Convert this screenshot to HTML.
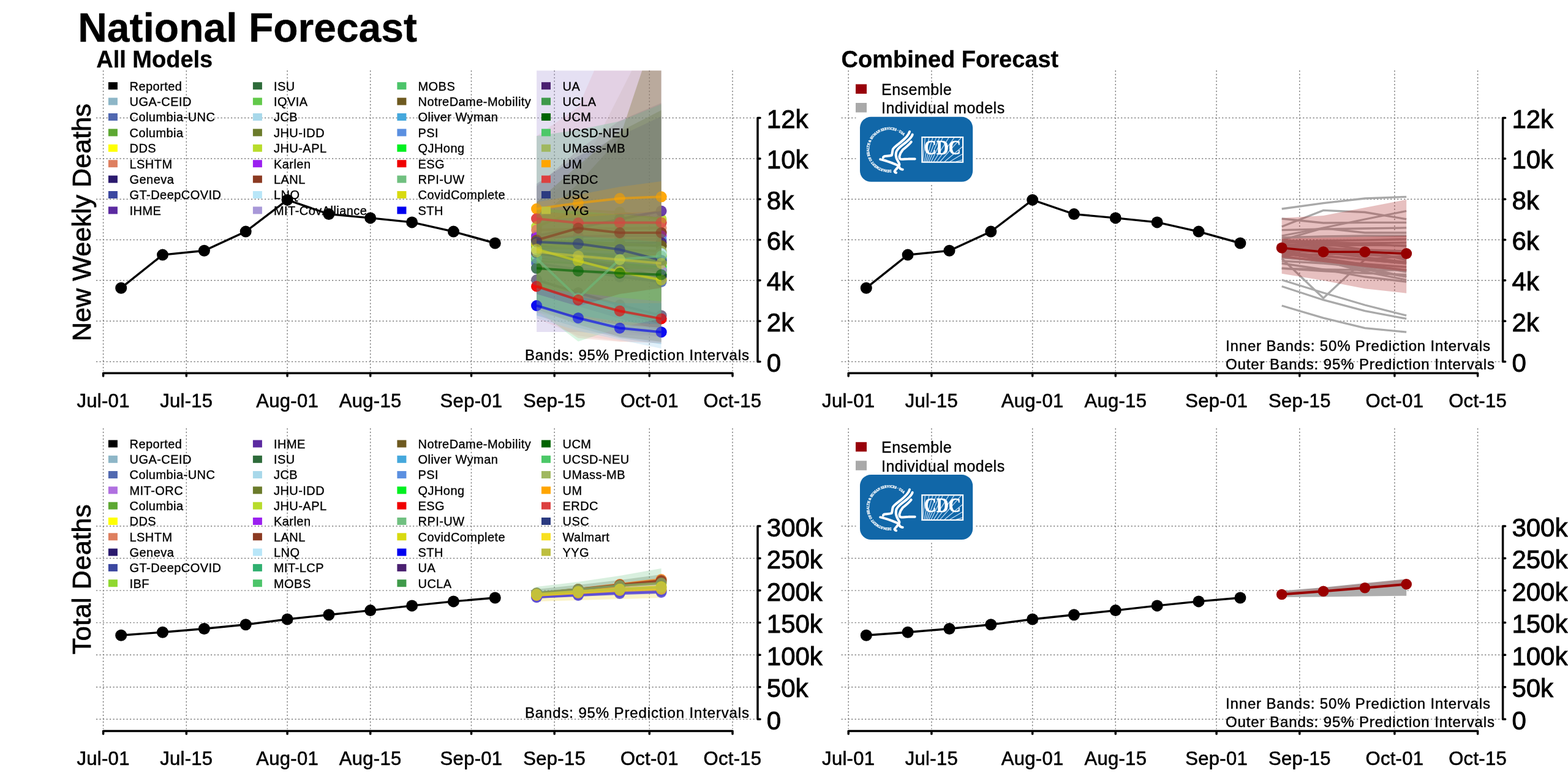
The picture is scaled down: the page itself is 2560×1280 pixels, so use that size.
<!DOCTYPE html>
<html><head><meta charset="utf-8"><title>National Forecast</title><style>
html,body{margin:0;padding:0;background:#fff;}
svg{display:block;}
text{font-family:'Liberation Sans', Arial, sans-serif;fill:#000;stroke:#000;stroke-width:0.35px;}
.g{stroke:#7c7c7c;stroke-width:1.45;stroke-dasharray:2.2 3.3;fill:none;}
.ax{stroke:#000;stroke-width:3.5;fill:none;stroke-linecap:round;stroke-linejoin:round;}
.rep{stroke:#000;stroke-width:3.4;fill:none;}
.xt{font-size:31px;text-anchor:middle;stroke-width:0.6px;letter-spacing:0.3px;}
.yt{font-size:42px;stroke-width:0.9px;}
.yl{font-size:43.2px;text-anchor:middle;stroke-width:0.8px;}
.st{font-size:38px;font-weight:bold;stroke-width:0.3px;}
.lg{font-size:20px;letter-spacing:0.45px;}
.lg2{font-size:25px;letter-spacing:0.5px;}
.bd{font-size:24px;stroke-width:0.45px;}
</style></head>
<body>
<svg width="2560" height="1280" viewBox="0 0 2560 1280">
<defs>
<clipPath id="clipTL"><rect x="140" y="115.2" width="1100" height="500"/></clipPath>
</defs>
<rect width="2560" height="1280" fill="#fff"/>
<text x="127.2" y="67.6" font-family="'Liberation Sans', Arial, sans-serif" font-weight="bold" font-size="66">National Forecast</text>
<text x="157.2" y="110.2" class="st">All Models</text>
<text x="1373.5" y="110.2" class="st">Combined Forecast</text>
<line x1="168.6" y1="115" x2="168.6" y2="606" class="g"/>
<line x1="304.3" y1="115" x2="304.3" y2="606" class="g"/>
<line x1="469.1" y1="115" x2="469.1" y2="606" class="g"/>
<line x1="604.7" y1="115" x2="604.7" y2="606" class="g"/>
<line x1="769.5" y1="115" x2="769.5" y2="606" class="g"/>
<line x1="905.2" y1="115" x2="905.2" y2="606" class="g"/>
<line x1="1060.3" y1="115" x2="1060.3" y2="606" class="g"/>
<line x1="1196" y1="115" x2="1196" y2="606" class="g"/>
<line x1="157" y1="590.5" x2="1235" y2="590.5" class="g"/>
<line x1="157" y1="524.2" x2="1235" y2="524.2" class="g"/>
<line x1="157" y1="457.8" x2="1235" y2="457.8" class="g"/>
<line x1="157" y1="391.5" x2="1235" y2="391.5" class="g"/>
<line x1="157" y1="325.2" x2="1235" y2="325.2" class="g"/>
<line x1="157" y1="258.9" x2="1235" y2="258.9" class="g"/>
<line x1="157" y1="192.5" x2="1235" y2="192.5" class="g"/>
<path d="M168.6,614V609.2H1196V614" class="ax"/>
<line x1="304.3" y1="609.2" x2="304.3" y2="614" class="ax"/>
<line x1="469.1" y1="609.2" x2="469.1" y2="614" class="ax"/>
<line x1="604.7" y1="609.2" x2="604.7" y2="614" class="ax"/>
<line x1="769.5" y1="609.2" x2="769.5" y2="614" class="ax"/>
<line x1="905.2" y1="609.2" x2="905.2" y2="614" class="ax"/>
<line x1="1060.3" y1="609.2" x2="1060.3" y2="614" class="ax"/>
<text x="168.6" y="664.5" class="xt">Jul-01</text>
<text x="304.3" y="664.5" class="xt">Jul-15</text>
<text x="469.1" y="664.5" class="xt">Aug-01</text>
<text x="604.7" y="664.5" class="xt">Aug-15</text>
<text x="769.5" y="664.5" class="xt">Sep-01</text>
<text x="905.2" y="664.5" class="xt">Sep-15</text>
<text x="1060.3" y="664.5" class="xt">Oct-01</text>
<text x="1196" y="664.5" class="xt">Oct-15</text>
<path d="M1241,192.5H1237V590.5H1241" class="ax"/>
<line x1="1237" y1="524.2" x2="1241" y2="524.2" class="ax"/>
<line x1="1237" y1="457.8" x2="1241" y2="457.8" class="ax"/>
<line x1="1237" y1="391.5" x2="1241" y2="391.5" class="ax"/>
<line x1="1237" y1="325.2" x2="1241" y2="325.2" class="ax"/>
<line x1="1237" y1="258.9" x2="1241" y2="258.9" class="ax"/>
<text x="1251.8" y="607" class="yt">0</text>
<text x="1251.8" y="540.7" class="yt">2k</text>
<text x="1251.8" y="474.3" class="yt">4k</text>
<text x="1251.8" y="408" class="yt">6k</text>
<text x="1251.8" y="341.7" class="yt">8k</text>
<text x="1251.8" y="275.4" class="yt">10k</text>
<text x="1251.8" y="209" class="yt">12k</text>
<line x1="1385.2" y1="115" x2="1385.2" y2="606" class="g"/>
<line x1="1520.9" y1="115" x2="1520.9" y2="606" class="g"/>
<line x1="1685.7" y1="115" x2="1685.7" y2="606" class="g"/>
<line x1="1821.3" y1="115" x2="1821.3" y2="606" class="g"/>
<line x1="1986.1" y1="115" x2="1986.1" y2="606" class="g"/>
<line x1="2121.8" y1="115" x2="2121.8" y2="606" class="g"/>
<line x1="2276.9" y1="115" x2="2276.9" y2="606" class="g"/>
<line x1="2412.6" y1="115" x2="2412.6" y2="606" class="g"/>
<line x1="1373.6" y1="590.5" x2="2451.6" y2="590.5" class="g"/>
<line x1="1373.6" y1="524.2" x2="2451.6" y2="524.2" class="g"/>
<line x1="1373.6" y1="457.8" x2="2451.6" y2="457.8" class="g"/>
<line x1="1373.6" y1="391.5" x2="2451.6" y2="391.5" class="g"/>
<line x1="1373.6" y1="325.2" x2="2451.6" y2="325.2" class="g"/>
<line x1="1373.6" y1="258.9" x2="2451.6" y2="258.9" class="g"/>
<line x1="1373.6" y1="192.5" x2="2451.6" y2="192.5" class="g"/>
<path d="M1385.2,614V609.2H2412.6V614" class="ax"/>
<line x1="1520.9" y1="609.2" x2="1520.9" y2="614" class="ax"/>
<line x1="1685.7" y1="609.2" x2="1685.7" y2="614" class="ax"/>
<line x1="1821.3" y1="609.2" x2="1821.3" y2="614" class="ax"/>
<line x1="1986.1" y1="609.2" x2="1986.1" y2="614" class="ax"/>
<line x1="2121.8" y1="609.2" x2="2121.8" y2="614" class="ax"/>
<line x1="2276.9" y1="609.2" x2="2276.9" y2="614" class="ax"/>
<text x="1385.2" y="664.5" class="xt">Jul-01</text>
<text x="1520.9" y="664.5" class="xt">Jul-15</text>
<text x="1685.7" y="664.5" class="xt">Aug-01</text>
<text x="1821.3" y="664.5" class="xt">Aug-15</text>
<text x="1986.1" y="664.5" class="xt">Sep-01</text>
<text x="2121.8" y="664.5" class="xt">Sep-15</text>
<text x="2276.9" y="664.5" class="xt">Oct-01</text>
<text x="2412.6" y="664.5" class="xt">Oct-15</text>
<path d="M2457.6,192.5H2453.6V590.5H2457.6" class="ax"/>
<line x1="2453.6" y1="524.2" x2="2457.6" y2="524.2" class="ax"/>
<line x1="2453.6" y1="457.8" x2="2457.6" y2="457.8" class="ax"/>
<line x1="2453.6" y1="391.5" x2="2457.6" y2="391.5" class="ax"/>
<line x1="2453.6" y1="325.2" x2="2457.6" y2="325.2" class="ax"/>
<line x1="2453.6" y1="258.9" x2="2457.6" y2="258.9" class="ax"/>
<text x="2468.4" y="607" class="yt">0</text>
<text x="2468.4" y="540.7" class="yt">2k</text>
<text x="2468.4" y="474.3" class="yt">4k</text>
<text x="2468.4" y="408" class="yt">6k</text>
<text x="2468.4" y="341.7" class="yt">8k</text>
<text x="2468.4" y="275.4" class="yt">10k</text>
<text x="2468.4" y="209" class="yt">12k</text>
<line x1="168.6" y1="699.3" x2="168.6" y2="1190.3" class="g"/>
<line x1="304.3" y1="699.3" x2="304.3" y2="1190.3" class="g"/>
<line x1="469.1" y1="699.3" x2="469.1" y2="1190.3" class="g"/>
<line x1="604.7" y1="699.3" x2="604.7" y2="1190.3" class="g"/>
<line x1="769.5" y1="699.3" x2="769.5" y2="1190.3" class="g"/>
<line x1="905.2" y1="699.3" x2="905.2" y2="1190.3" class="g"/>
<line x1="1060.3" y1="699.3" x2="1060.3" y2="1190.3" class="g"/>
<line x1="1196" y1="699.3" x2="1196" y2="1190.3" class="g"/>
<line x1="157" y1="1174.3" x2="1235" y2="1174.3" class="g"/>
<line x1="157" y1="1121.8" x2="1235" y2="1121.8" class="g"/>
<line x1="157" y1="1069.2" x2="1235" y2="1069.2" class="g"/>
<line x1="157" y1="1016.6" x2="1235" y2="1016.6" class="g"/>
<line x1="157" y1="964.1" x2="1235" y2="964.1" class="g"/>
<line x1="157" y1="911.5" x2="1235" y2="911.5" class="g"/>
<line x1="157" y1="859" x2="1235" y2="859" class="g"/>
<path d="M168.6,1198.3V1193.5H1196V1198.3" class="ax"/>
<line x1="304.3" y1="1193.5" x2="304.3" y2="1198.3" class="ax"/>
<line x1="469.1" y1="1193.5" x2="469.1" y2="1198.3" class="ax"/>
<line x1="604.7" y1="1193.5" x2="604.7" y2="1198.3" class="ax"/>
<line x1="769.5" y1="1193.5" x2="769.5" y2="1198.3" class="ax"/>
<line x1="905.2" y1="1193.5" x2="905.2" y2="1198.3" class="ax"/>
<line x1="1060.3" y1="1193.5" x2="1060.3" y2="1198.3" class="ax"/>
<text x="168.6" y="1248.8" class="xt">Jul-01</text>
<text x="304.3" y="1248.8" class="xt">Jul-15</text>
<text x="469.1" y="1248.8" class="xt">Aug-01</text>
<text x="604.7" y="1248.8" class="xt">Aug-15</text>
<text x="769.5" y="1248.8" class="xt">Sep-01</text>
<text x="905.2" y="1248.8" class="xt">Sep-15</text>
<text x="1060.3" y="1248.8" class="xt">Oct-01</text>
<text x="1196" y="1248.8" class="xt">Oct-15</text>
<path d="M1241,859H1237V1174.3H1241" class="ax"/>
<line x1="1237" y1="1121.8" x2="1241" y2="1121.8" class="ax"/>
<line x1="1237" y1="1069.2" x2="1241" y2="1069.2" class="ax"/>
<line x1="1237" y1="1016.6" x2="1241" y2="1016.6" class="ax"/>
<line x1="1237" y1="964.1" x2="1241" y2="964.1" class="ax"/>
<line x1="1237" y1="911.5" x2="1241" y2="911.5" class="ax"/>
<text x="1251.8" y="1190.8" class="yt">0</text>
<text x="1251.8" y="1138.2" class="yt">50k</text>
<text x="1251.8" y="1085.7" class="yt">100k</text>
<text x="1251.8" y="1033.2" class="yt">150k</text>
<text x="1251.8" y="980.6" class="yt">200k</text>
<text x="1251.8" y="928" class="yt">250k</text>
<text x="1251.8" y="875.5" class="yt">300k</text>
<line x1="1385.2" y1="699.3" x2="1385.2" y2="1190.3" class="g"/>
<line x1="1520.9" y1="699.3" x2="1520.9" y2="1190.3" class="g"/>
<line x1="1685.7" y1="699.3" x2="1685.7" y2="1190.3" class="g"/>
<line x1="1821.3" y1="699.3" x2="1821.3" y2="1190.3" class="g"/>
<line x1="1986.1" y1="699.3" x2="1986.1" y2="1190.3" class="g"/>
<line x1="2121.8" y1="699.3" x2="2121.8" y2="1190.3" class="g"/>
<line x1="2276.9" y1="699.3" x2="2276.9" y2="1190.3" class="g"/>
<line x1="2412.6" y1="699.3" x2="2412.6" y2="1190.3" class="g"/>
<line x1="1373.6" y1="1174.3" x2="2451.6" y2="1174.3" class="g"/>
<line x1="1373.6" y1="1121.8" x2="2451.6" y2="1121.8" class="g"/>
<line x1="1373.6" y1="1069.2" x2="2451.6" y2="1069.2" class="g"/>
<line x1="1373.6" y1="1016.6" x2="2451.6" y2="1016.6" class="g"/>
<line x1="1373.6" y1="964.1" x2="2451.6" y2="964.1" class="g"/>
<line x1="1373.6" y1="911.5" x2="2451.6" y2="911.5" class="g"/>
<line x1="1373.6" y1="859" x2="2451.6" y2="859" class="g"/>
<path d="M1385.2,1198.3V1193.5H2412.6V1198.3" class="ax"/>
<line x1="1520.9" y1="1193.5" x2="1520.9" y2="1198.3" class="ax"/>
<line x1="1685.7" y1="1193.5" x2="1685.7" y2="1198.3" class="ax"/>
<line x1="1821.3" y1="1193.5" x2="1821.3" y2="1198.3" class="ax"/>
<line x1="1986.1" y1="1193.5" x2="1986.1" y2="1198.3" class="ax"/>
<line x1="2121.8" y1="1193.5" x2="2121.8" y2="1198.3" class="ax"/>
<line x1="2276.9" y1="1193.5" x2="2276.9" y2="1198.3" class="ax"/>
<text x="1385.2" y="1248.8" class="xt">Jul-01</text>
<text x="1520.9" y="1248.8" class="xt">Jul-15</text>
<text x="1685.7" y="1248.8" class="xt">Aug-01</text>
<text x="1821.3" y="1248.8" class="xt">Aug-15</text>
<text x="1986.1" y="1248.8" class="xt">Sep-01</text>
<text x="2121.8" y="1248.8" class="xt">Sep-15</text>
<text x="2276.9" y="1248.8" class="xt">Oct-01</text>
<text x="2412.6" y="1248.8" class="xt">Oct-15</text>
<path d="M2457.6,859H2453.6V1174.3H2457.6" class="ax"/>
<line x1="2453.6" y1="1121.8" x2="2457.6" y2="1121.8" class="ax"/>
<line x1="2453.6" y1="1069.2" x2="2457.6" y2="1069.2" class="ax"/>
<line x1="2453.6" y1="1016.6" x2="2457.6" y2="1016.6" class="ax"/>
<line x1="2453.6" y1="964.1" x2="2457.6" y2="964.1" class="ax"/>
<line x1="2453.6" y1="911.5" x2="2457.6" y2="911.5" class="ax"/>
<text x="2468.4" y="1190.8" class="yt">0</text>
<text x="2468.4" y="1138.2" class="yt">50k</text>
<text x="2468.4" y="1085.7" class="yt">100k</text>
<text x="2468.4" y="1033.2" class="yt">150k</text>
<text x="2468.4" y="980.6" class="yt">200k</text>
<text x="2468.4" y="928" class="yt">250k</text>
<text x="2468.4" y="875.5" class="yt">300k</text>
<text transform="translate(148,363.2) rotate(-90)" class="yl">New Weekly Deaths</text>
<text transform="translate(148,945.8) rotate(-90)" class="yl" textLength="245" lengthAdjust="spacing">Total Deaths</text>
<polyline points="197.7,470.2 265.5,416.1 333.4,409.3 401.2,378.1 469.1,326.4 536.9,349.6 604.7,355.9 672.6,362.9 740.4,378.1 808.3,397" class="rep"/>
<circle cx="197.7" cy="470.2" r="9.5"/>
<circle cx="265.5" cy="416.1" r="9.5"/>
<circle cx="333.4" cy="409.3" r="9.5"/>
<circle cx="401.2" cy="378.1" r="9.5"/>
<circle cx="469.1" cy="326.4" r="9.5"/>
<circle cx="536.9" cy="349.6" r="9.5"/>
<circle cx="604.7" cy="355.9" r="9.5"/>
<circle cx="672.6" cy="362.9" r="9.5"/>
<circle cx="740.4" cy="378.1" r="9.5"/>
<circle cx="808.3" cy="397" r="9.5"/>
<g clip-path="url(#clipTL)">
<polyline points="876.1,341 944,331.6 1011.8,324 1079.6,321.3" fill="none" stroke="#FFA500" stroke-width="4" stroke-opacity="0.9"/>
<circle cx="876.1" cy="341" r="9" fill="#FFA500" fill-opacity="0.9"/>
<circle cx="944" cy="331.6" r="9" fill="#FFA500" fill-opacity="0.9"/>
<circle cx="1011.8" cy="324" r="9" fill="#FFA500" fill-opacity="0.9"/>
<circle cx="1079.6" cy="321.3" r="9" fill="#FFA500" fill-opacity="0.9"/>
<polyline points="876.1,357 944,364 1011.8,363.4 1079.6,363.4" fill="none" stroke="#DC4040" stroke-width="4" stroke-opacity="0.9"/>
<circle cx="876.1" cy="357" r="9" fill="#DC4040" fill-opacity="0.9"/>
<circle cx="944" cy="364" r="9" fill="#DC4040" fill-opacity="0.9"/>
<circle cx="1011.8" cy="363.4" r="9" fill="#DC4040" fill-opacity="0.9"/>
<circle cx="1079.6" cy="363.4" r="9" fill="#DC4040" fill-opacity="0.9"/>
<polyline points="876.1,370 944,343.4 1011.8,346.5 1079.6,357.8" fill="none" stroke="#B8DC2C" stroke-width="4" stroke-opacity="0.9"/>
<circle cx="876.1" cy="370" r="9" fill="#B8DC2C" fill-opacity="0.9"/>
<circle cx="944" cy="343.4" r="9" fill="#B8DC2C" fill-opacity="0.9"/>
<circle cx="1011.8" cy="346.5" r="9" fill="#B8DC2C" fill-opacity="0.9"/>
<circle cx="1079.6" cy="357.8" r="9" fill="#B8DC2C" fill-opacity="0.9"/>
<polyline points="876.1,385 944,372 1011.8,358 1079.6,344.5" fill="none" stroke="#5B2AA0" stroke-width="4" stroke-opacity="0.9"/>
<circle cx="876.1" cy="385" r="9" fill="#5B2AA0" fill-opacity="0.9"/>
<circle cx="944" cy="372" r="9" fill="#5B2AA0" fill-opacity="0.9"/>
<circle cx="1011.8" cy="358" r="9" fill="#5B2AA0" fill-opacity="0.9"/>
<circle cx="1079.6" cy="344.5" r="9" fill="#5B2AA0" fill-opacity="0.9"/>
<polyline points="876.1,375.6 944,374 1011.8,373 1079.6,371.9" fill="none" stroke="#DE7F5F" stroke-width="4" stroke-opacity="0.9"/>
<circle cx="876.1" cy="375.6" r="9" fill="#DE7F5F" fill-opacity="0.9"/>
<circle cx="944" cy="374" r="9" fill="#DE7F5F" fill-opacity="0.9"/>
<circle cx="1011.8" cy="373" r="9" fill="#DE7F5F" fill-opacity="0.9"/>
<circle cx="1079.6" cy="371.9" r="9" fill="#DE7F5F" fill-opacity="0.9"/>
<polyline points="876.1,392 944,372.5 1011.8,380 1079.6,380" fill="none" stroke="#8B3A22" stroke-width="4" stroke-opacity="0.9"/>
<circle cx="876.1" cy="392" r="9" fill="#8B3A22" fill-opacity="0.9"/>
<circle cx="944" cy="372.5" r="9" fill="#8B3A22" fill-opacity="0.9"/>
<circle cx="1011.8" cy="380" r="9" fill="#8B3A22" fill-opacity="0.9"/>
<circle cx="1079.6" cy="380" r="9" fill="#8B3A22" fill-opacity="0.9"/>
<polyline points="876.1,388 944,386 1011.8,385 1079.6,385" fill="none" stroke="#9B20F0" stroke-width="4" stroke-opacity="0.9"/>
<circle cx="876.1" cy="388" r="9" fill="#9B20F0" fill-opacity="0.9"/>
<circle cx="944" cy="386" r="9" fill="#9B20F0" fill-opacity="0.9"/>
<circle cx="1011.8" cy="385" r="9" fill="#9B20F0" fill-opacity="0.9"/>
<circle cx="1079.6" cy="385" r="9" fill="#9B20F0" fill-opacity="0.9"/>
<polyline points="876.1,396 944,393 1011.8,392 1079.6,390.6" fill="none" stroke="#5B8FE0" stroke-width="4" stroke-opacity="0.9"/>
<circle cx="876.1" cy="396" r="9" fill="#5B8FE0" fill-opacity="0.9"/>
<circle cx="944" cy="393" r="9" fill="#5B8FE0" fill-opacity="0.9"/>
<circle cx="1011.8" cy="392" r="9" fill="#5B8FE0" fill-opacity="0.9"/>
<circle cx="1079.6" cy="390.6" r="9" fill="#5B8FE0" fill-opacity="0.9"/>
<polyline points="876.1,395 944,398 1011.8,407.5 1079.6,425" fill="none" stroke="#2B3A80" stroke-width="4" stroke-opacity="0.9"/>
<circle cx="876.1" cy="395" r="9" fill="#2B3A80" fill-opacity="0.9"/>
<circle cx="944" cy="398" r="9" fill="#2B3A80" fill-opacity="0.9"/>
<circle cx="1011.8" cy="407.5" r="9" fill="#2B3A80" fill-opacity="0.9"/>
<circle cx="1079.6" cy="425" r="9" fill="#2B3A80" fill-opacity="0.9"/>
<polyline points="876.1,400 944,398 1011.8,397 1079.6,396.2" fill="none" stroke="#4A2070" stroke-width="4" stroke-opacity="0.9"/>
<circle cx="876.1" cy="400" r="9" fill="#4A2070" fill-opacity="0.9"/>
<circle cx="944" cy="398" r="9" fill="#4A2070" fill-opacity="0.9"/>
<circle cx="1011.8" cy="397" r="9" fill="#4A2070" fill-opacity="0.9"/>
<circle cx="1079.6" cy="396.2" r="9" fill="#4A2070" fill-opacity="0.9"/>
<polyline points="876.1,392.5 944,395 1011.8,398 1079.6,401.8" fill="none" stroke="#6B7B2B" stroke-width="4" stroke-opacity="0.9"/>
<circle cx="876.1" cy="392.5" r="9" fill="#6B7B2B" fill-opacity="0.9"/>
<circle cx="944" cy="395" r="9" fill="#6B7B2B" fill-opacity="0.9"/>
<circle cx="1011.8" cy="398" r="9" fill="#6B7B2B" fill-opacity="0.9"/>
<circle cx="1079.6" cy="401.8" r="9" fill="#6B7B2B" fill-opacity="0.9"/>
<polyline points="876.1,407 944,426 1011.8,443.6 1079.6,457" fill="none" stroke="#D8DA10" stroke-width="4" stroke-opacity="0.9"/>
<circle cx="876.1" cy="407" r="9" fill="#D8DA10" fill-opacity="0.9"/>
<circle cx="944" cy="426" r="9" fill="#D8DA10" fill-opacity="0.9"/>
<circle cx="1011.8" cy="443.6" r="9" fill="#D8DA10" fill-opacity="0.9"/>
<circle cx="1079.6" cy="457" r="9" fill="#D8DA10" fill-opacity="0.9"/>
<polyline points="876.1,438 944,442.5 1011.8,446 1079.6,448.5" fill="none" stroke="#006400" stroke-width="4" stroke-opacity="0.9"/>
<circle cx="876.1" cy="438" r="9" fill="#006400" fill-opacity="0.9"/>
<circle cx="944" cy="442.5" r="9" fill="#006400" fill-opacity="0.9"/>
<circle cx="1011.8" cy="446" r="9" fill="#006400" fill-opacity="0.9"/>
<circle cx="1079.6" cy="448.5" r="9" fill="#006400" fill-opacity="0.9"/>
<polyline points="876.1,422 944,486.7 1011.8,423.5 1079.6,418" fill="none" stroke="#70C080" stroke-width="4" stroke-opacity="0.9"/>
<circle cx="876.1" cy="422" r="9" fill="#70C080" fill-opacity="0.9"/>
<circle cx="944" cy="486.7" r="9" fill="#70C080" fill-opacity="0.9"/>
<circle cx="1011.8" cy="423.5" r="9" fill="#70C080" fill-opacity="0.9"/>
<circle cx="1079.6" cy="418" r="9" fill="#70C080" fill-opacity="0.9"/>
<polyline points="876.1,467.5 944,489.7 1011.8,507.7 1079.6,520.4" fill="none" stroke="#F00000" stroke-width="4" stroke-opacity="0.9"/>
<circle cx="876.1" cy="467.5" r="9" fill="#F00000" fill-opacity="0.9"/>
<circle cx="944" cy="489.7" r="9" fill="#F00000" fill-opacity="0.9"/>
<circle cx="1011.8" cy="507.7" r="9" fill="#F00000" fill-opacity="0.9"/>
<circle cx="1079.6" cy="520.4" r="9" fill="#F00000" fill-opacity="0.9"/>
<polyline points="876.1,457 944,478 1011.8,498 1079.6,515.2" fill="none" stroke="#6A6080" stroke-width="4" stroke-opacity="0.9"/>
<circle cx="876.1" cy="457" r="9" fill="#6A6080" fill-opacity="0.9"/>
<circle cx="944" cy="478" r="9" fill="#6A6080" fill-opacity="0.9"/>
<circle cx="1011.8" cy="498" r="9" fill="#6A6080" fill-opacity="0.9"/>
<circle cx="1079.6" cy="515.2" r="9" fill="#6A6080" fill-opacity="0.9"/>
<polyline points="876.1,499 944,519.2 1011.8,535.7 1079.6,542.2" fill="none" stroke="#0000F0" stroke-width="4" stroke-opacity="0.9"/>
<circle cx="876.1" cy="499" r="9" fill="#0000F0" fill-opacity="0.9"/>
<circle cx="944" cy="519.2" r="9" fill="#0000F0" fill-opacity="0.9"/>
<circle cx="1011.8" cy="535.7" r="9" fill="#0000F0" fill-opacity="0.9"/>
<circle cx="1079.6" cy="542.2" r="9" fill="#0000F0" fill-opacity="0.9"/>
<polyline points="876.1,420.6 944,426 1011.8,431 1079.6,436" fill="none" stroke="#00F020" stroke-width="4" stroke-opacity="0.9"/>
<circle cx="876.1" cy="420.6" r="9" fill="#00F020" fill-opacity="0.9"/>
<circle cx="944" cy="426" r="9" fill="#00F020" fill-opacity="0.9"/>
<circle cx="1011.8" cy="431" r="9" fill="#00F020" fill-opacity="0.9"/>
<circle cx="1079.6" cy="436" r="9" fill="#00F020" fill-opacity="0.9"/>
<polyline points="876.1,416.8 944,415 1011.8,414 1079.6,413" fill="none" stroke="#4CC868" stroke-width="4" stroke-opacity="0.9"/>
<circle cx="876.1" cy="416.8" r="9" fill="#4CC868" fill-opacity="0.9"/>
<circle cx="944" cy="415" r="9" fill="#4CC868" fill-opacity="0.9"/>
<circle cx="1011.8" cy="414" r="9" fill="#4CC868" fill-opacity="0.9"/>
<circle cx="1079.6" cy="413" r="9" fill="#4CC868" fill-opacity="0.9"/>
<polyline points="876.1,411.2 944,418 1011.8,424 1079.6,430" fill="none" stroke="#C8C83A" stroke-width="4" stroke-opacity="0.9"/>
<circle cx="876.1" cy="411.2" r="9" fill="#C8C83A" fill-opacity="0.9"/>
<circle cx="944" cy="418" r="9" fill="#C8C83A" fill-opacity="0.9"/>
<circle cx="1011.8" cy="424" r="9" fill="#C8C83A" fill-opacity="0.9"/>
<circle cx="1079.6" cy="430" r="9" fill="#C8C83A" fill-opacity="0.9"/>
<polyline points="876.1,426.2 944,430 1011.8,436 1079.6,441.2" fill="none" stroke="#4CC46A" stroke-width="4" stroke-opacity="0.9"/>
<circle cx="876.1" cy="426.2" r="9" fill="#4CC46A" fill-opacity="0.9"/>
<circle cx="944" cy="430" r="9" fill="#4CC46A" fill-opacity="0.9"/>
<circle cx="1011.8" cy="436" r="9" fill="#4CC46A" fill-opacity="0.9"/>
<circle cx="1079.6" cy="441.2" r="9" fill="#4CC46A" fill-opacity="0.9"/>
<polyline points="876.1,420 944,426 1011.8,433 1079.6,441" fill="none" stroke="#5DA832" stroke-width="4" stroke-opacity="0.9"/>
<circle cx="876.1" cy="420" r="9" fill="#5DA832" fill-opacity="0.9"/>
<circle cx="944" cy="426" r="9" fill="#5DA832" fill-opacity="0.9"/>
<circle cx="1011.8" cy="433" r="9" fill="#5DA832" fill-opacity="0.9"/>
<circle cx="1079.6" cy="441" r="9" fill="#5DA832" fill-opacity="0.9"/>
<polyline points="876.1,404 944,408 1011.8,414 1079.6,422.5" fill="none" stroke="#8DB6C7" stroke-width="4" stroke-opacity="0.9"/>
<circle cx="876.1" cy="404" r="9" fill="#8DB6C7" fill-opacity="0.9"/>
<circle cx="944" cy="408" r="9" fill="#8DB6C7" fill-opacity="0.9"/>
<circle cx="1011.8" cy="414" r="9" fill="#8DB6C7" fill-opacity="0.9"/>
<circle cx="1079.6" cy="422.5" r="9" fill="#8DB6C7" fill-opacity="0.9"/>
<polyline points="876.1,402 944,401 1011.8,400 1079.6,401" fill="none" stroke="#6E5A20" stroke-width="4" stroke-opacity="0.9"/>
<circle cx="876.1" cy="402" r="9" fill="#6E5A20" fill-opacity="0.9"/>
<circle cx="944" cy="401" r="9" fill="#6E5A20" fill-opacity="0.9"/>
<circle cx="1011.8" cy="400" r="9" fill="#6E5A20" fill-opacity="0.9"/>
<circle cx="1079.6" cy="401" r="9" fill="#6E5A20" fill-opacity="0.9"/>
<polyline points="876.1,409 944,412 1011.8,416 1079.6,420" fill="none" stroke="#45A8DC" stroke-width="4" stroke-opacity="0.9"/>
<circle cx="876.1" cy="409" r="9" fill="#45A8DC" fill-opacity="0.9"/>
<circle cx="944" cy="412" r="9" fill="#45A8DC" fill-opacity="0.9"/>
<circle cx="1011.8" cy="416" r="9" fill="#45A8DC" fill-opacity="0.9"/>
<circle cx="1079.6" cy="420" r="9" fill="#45A8DC" fill-opacity="0.9"/>
<polyline points="876.1,404 944,406 1011.8,408 1079.6,410" fill="none" stroke="#A0B860" stroke-width="4" stroke-opacity="0.9"/>
<circle cx="876.1" cy="404" r="9" fill="#A0B860" fill-opacity="0.9"/>
<circle cx="944" cy="406" r="9" fill="#A0B860" fill-opacity="0.9"/>
<circle cx="1011.8" cy="408" r="9" fill="#A0B860" fill-opacity="0.9"/>
<circle cx="1079.6" cy="410" r="9" fill="#A0B860" fill-opacity="0.9"/>
<polyline points="876.1,412 944,418 1011.8,424 1079.6,430" fill="none" stroke="#2E6B3A" stroke-width="4" stroke-opacity="0.9"/>
<circle cx="876.1" cy="412" r="9" fill="#2E6B3A" fill-opacity="0.9"/>
<circle cx="944" cy="418" r="9" fill="#2E6B3A" fill-opacity="0.9"/>
<circle cx="1011.8" cy="424" r="9" fill="#2E6B3A" fill-opacity="0.9"/>
<circle cx="1079.6" cy="430" r="9" fill="#2E6B3A" fill-opacity="0.9"/>
<polyline points="876.1,414 944,422 1011.8,432 1079.6,444" fill="none" stroke="#62C94A" stroke-width="4" stroke-opacity="0.9"/>
<circle cx="876.1" cy="414" r="9" fill="#62C94A" fill-opacity="0.9"/>
<circle cx="944" cy="422" r="9" fill="#62C94A" fill-opacity="0.9"/>
<circle cx="1011.8" cy="432" r="9" fill="#62C94A" fill-opacity="0.9"/>
<circle cx="1079.6" cy="444" r="9" fill="#62C94A" fill-opacity="0.9"/>
<polyline points="876.1,406 944,412 1011.8,420 1079.6,428" fill="none" stroke="#3F9A4A" stroke-width="4" stroke-opacity="0.9"/>
<circle cx="876.1" cy="406" r="9" fill="#3F9A4A" fill-opacity="0.9"/>
<circle cx="944" cy="412" r="9" fill="#3F9A4A" fill-opacity="0.9"/>
<circle cx="1011.8" cy="420" r="9" fill="#3F9A4A" fill-opacity="0.9"/>
<circle cx="1079.6" cy="428" r="9" fill="#3F9A4A" fill-opacity="0.9"/>
<polyline points="876.1,418 944,428 1011.8,440 1079.6,452" fill="none" stroke="#A8D8EA" stroke-width="4" stroke-opacity="0.9"/>
<circle cx="876.1" cy="418" r="9" fill="#A8D8EA" fill-opacity="0.9"/>
<circle cx="944" cy="428" r="9" fill="#A8D8EA" fill-opacity="0.9"/>
<circle cx="1011.8" cy="440" r="9" fill="#A8D8EA" fill-opacity="0.9"/>
<circle cx="1079.6" cy="452" r="9" fill="#A8D8EA" fill-opacity="0.9"/>
<polyline points="876.1,398 944,404 1011.8,410 1079.6,416" fill="none" stroke="#FFFF00" stroke-width="4" stroke-opacity="0.9"/>
<circle cx="876.1" cy="398" r="9" fill="#FFFF00" fill-opacity="0.9"/>
<circle cx="944" cy="404" r="9" fill="#FFFF00" fill-opacity="0.9"/>
<circle cx="1011.8" cy="410" r="9" fill="#FFFF00" fill-opacity="0.9"/>
<circle cx="1079.6" cy="416" r="9" fill="#FFFF00" fill-opacity="0.9"/>
<polyline points="876.1,413 944,424 1011.8,437 1079.6,452" fill="none" stroke="#2B1A6E" stroke-width="4" stroke-opacity="0.9"/>
<circle cx="876.1" cy="413" r="9" fill="#2B1A6E" fill-opacity="0.9"/>
<circle cx="944" cy="424" r="9" fill="#2B1A6E" fill-opacity="0.9"/>
<circle cx="1011.8" cy="437" r="9" fill="#2B1A6E" fill-opacity="0.9"/>
<circle cx="1079.6" cy="452" r="9" fill="#2B1A6E" fill-opacity="0.9"/>
<polyline points="876.1,430 944,440 1011.8,452 1079.6,460" fill="none" stroke="#5068B0" stroke-width="4" stroke-opacity="0.9"/>
<circle cx="876.1" cy="430" r="9" fill="#5068B0" fill-opacity="0.9"/>
<circle cx="944" cy="440" r="9" fill="#5068B0" fill-opacity="0.9"/>
<circle cx="1011.8" cy="452" r="9" fill="#5068B0" fill-opacity="0.9"/>
<circle cx="1079.6" cy="460" r="9" fill="#5068B0" fill-opacity="0.9"/>
<polyline points="876.1,438.4 944,440 1011.8,441 1079.6,441.2" fill="none" stroke="#A898D8" stroke-width="4" stroke-opacity="0.9"/>
<circle cx="876.1" cy="438.4" r="9" fill="#A898D8" fill-opacity="0.9"/>
<circle cx="944" cy="440" r="9" fill="#A898D8" fill-opacity="0.9"/>
<circle cx="1011.8" cy="441" r="9" fill="#A898D8" fill-opacity="0.9"/>
<circle cx="1079.6" cy="441.2" r="9" fill="#A898D8" fill-opacity="0.9"/>
<polyline points="876.1,408 944,410 1011.8,412 1079.6,414" fill="none" stroke="#B8E6F8" stroke-width="4" stroke-opacity="0.9"/>
<circle cx="876.1" cy="408" r="9" fill="#B8E6F8" fill-opacity="0.9"/>
<circle cx="944" cy="410" r="9" fill="#B8E6F8" fill-opacity="0.9"/>
<circle cx="1011.8" cy="412" r="9" fill="#B8E6F8" fill-opacity="0.9"/>
<circle cx="1079.6" cy="414" r="9" fill="#B8E6F8" fill-opacity="0.9"/>
<polygon points="876.1,-100 944,-100 1011.8,-100 1079.6,-100 1079.6,550 1011.8,546 944,542 876.1,542" fill="#A898D8" fill-opacity="0.3"/>
<polygon points="876.1,222 944,175 1011.8,20 1079.6,-200 1079.6,560 1011.8,557 944,548 876.1,520" fill="#D87080" fill-opacity="0.13"/>
<polygon points="876.1,330 944,287 1011.8,154 1079.6,20 1079.6,558 1011.8,550 944,530 876.1,505" fill="#9A8060" fill-opacity="0.1"/>
<polygon points="876.1,360 944,300 1011.8,225 1079.6,21 1079.6,558 1011.8,550 944,530 876.1,505" fill="#847A41" fill-opacity="0.38"/>
<polygon points="876.1,222 944,212 1011.8,198 1079.6,170 1079.6,545 1011.8,540 944,530 876.1,500" fill="#60C090" fill-opacity="0.3"/>
<polygon points="876.1,304 944,245 1011.8,197 1079.6,168 1079.6,550 1011.8,540 944,525 876.1,510" fill="#806078" fill-opacity="0.18"/>
<polygon points="876.1,300 944,255 1011.8,222 1079.6,190 1079.6,540 1011.8,520 944,500 876.1,480" fill="#686888" fill-opacity="0.28"/>
<polygon points="876.1,330 944,270 1011.8,215 1079.6,180 1079.6,530 1011.8,510 944,490 876.1,470" fill="#727A50" fill-opacity="0.35"/>
<polygon points="876.1,330 944,318 1011.8,305 1079.6,296 1079.6,345 1011.8,350 944,355 876.1,360" fill="#E0A020" fill-opacity="0.25"/>
<polygon points="876.1,340 944,345 1011.8,350 1079.6,355 1079.6,492 1011.8,486 944,478 876.1,470" fill="#70B030" fill-opacity="0.38"/>
<polygon points="876.1,345 944,350 1011.8,348 1079.6,345 1079.6,395 1011.8,390 944,385 876.1,395" fill="#C07030" fill-opacity="0.22"/>
<polygon points="876.1,470 944,485 1011.8,495 1079.6,495 1079.6,562 1011.8,552 944,535 876.1,515" fill="#4090B0" fill-opacity="0.3"/>
<polygon points="876.1,480 944,500 1011.8,480 1079.6,470 1079.6,520 1011.8,535 944,557.6 876.1,505" fill="#80E0A0" fill-opacity="0.3"/>
<polygon points="876.1,500 944,515 1011.8,525 1079.6,530 1079.6,560 1011.8,558 944,552 876.1,510" fill="#E09080" fill-opacity="0.22"/>
<polygon points="876.1,500 944,520 1011.8,530 1079.6,535 1079.6,569 1011.8,555 944,540 876.1,520" fill="#A0D0F0" fill-opacity="0.32"/>
<polyline points="876.1,341 944,331.6 1011.8,324 1079.6,321.3" fill="none" stroke="#FFA500" stroke-width="4" stroke-opacity="0.6"/>
<circle cx="876.1" cy="341" r="9" fill="#FFA500" fill-opacity="0.55"/>
<circle cx="944" cy="331.6" r="9" fill="#FFA500" fill-opacity="0.55"/>
<circle cx="1011.8" cy="324" r="9" fill="#FFA500" fill-opacity="0.55"/>
<circle cx="1079.6" cy="321.3" r="9" fill="#FFA500" fill-opacity="0.55"/>
<polyline points="876.1,357 944,364 1011.8,363.4 1079.6,363.4" fill="none" stroke="#DC4040" stroke-width="4" stroke-opacity="0.6"/>
<circle cx="876.1" cy="357" r="9" fill="#DC4040" fill-opacity="0.55"/>
<circle cx="944" cy="364" r="9" fill="#DC4040" fill-opacity="0.55"/>
<circle cx="1011.8" cy="363.4" r="9" fill="#DC4040" fill-opacity="0.55"/>
<circle cx="1079.6" cy="363.4" r="9" fill="#DC4040" fill-opacity="0.55"/>
<polyline points="876.1,392 944,372.5 1011.8,380 1079.6,380" fill="none" stroke="#8B3A22" stroke-width="4" stroke-opacity="0.6"/>
<circle cx="876.1" cy="392" r="9" fill="#8B3A22" fill-opacity="0.55"/>
<circle cx="944" cy="372.5" r="9" fill="#8B3A22" fill-opacity="0.55"/>
<circle cx="1011.8" cy="380" r="9" fill="#8B3A22" fill-opacity="0.55"/>
<circle cx="1079.6" cy="380" r="9" fill="#8B3A22" fill-opacity="0.55"/>
<polyline points="876.1,395 944,398 1011.8,407.5 1079.6,425" fill="none" stroke="#2B3A80" stroke-width="4" stroke-opacity="0.6"/>
<circle cx="876.1" cy="395" r="9" fill="#2B3A80" fill-opacity="0.55"/>
<circle cx="944" cy="398" r="9" fill="#2B3A80" fill-opacity="0.55"/>
<circle cx="1011.8" cy="407.5" r="9" fill="#2B3A80" fill-opacity="0.55"/>
<circle cx="1079.6" cy="425" r="9" fill="#2B3A80" fill-opacity="0.55"/>
<polyline points="876.1,407 944,426 1011.8,443.6 1079.6,457" fill="none" stroke="#D8DA10" stroke-width="4" stroke-opacity="0.6"/>
<circle cx="876.1" cy="407" r="9" fill="#D8DA10" fill-opacity="0.55"/>
<circle cx="944" cy="426" r="9" fill="#D8DA10" fill-opacity="0.55"/>
<circle cx="1011.8" cy="443.6" r="9" fill="#D8DA10" fill-opacity="0.55"/>
<circle cx="1079.6" cy="457" r="9" fill="#D8DA10" fill-opacity="0.55"/>
<polyline points="876.1,438 944,442.5 1011.8,446 1079.6,448.5" fill="none" stroke="#006400" stroke-width="4" stroke-opacity="0.6"/>
<circle cx="876.1" cy="438" r="9" fill="#006400" fill-opacity="0.55"/>
<circle cx="944" cy="442.5" r="9" fill="#006400" fill-opacity="0.55"/>
<circle cx="1011.8" cy="446" r="9" fill="#006400" fill-opacity="0.55"/>
<circle cx="1079.6" cy="448.5" r="9" fill="#006400" fill-opacity="0.55"/>
<polyline points="876.1,422 944,486.7 1011.8,423.5 1079.6,418" fill="none" stroke="#70C080" stroke-width="4" stroke-opacity="0.6"/>
<circle cx="876.1" cy="422" r="9" fill="#70C080" fill-opacity="0.55"/>
<circle cx="944" cy="486.7" r="9" fill="#70C080" fill-opacity="0.55"/>
<circle cx="1011.8" cy="423.5" r="9" fill="#70C080" fill-opacity="0.55"/>
<circle cx="1079.6" cy="418" r="9" fill="#70C080" fill-opacity="0.55"/>
<polyline points="876.1,467.5 944,489.7 1011.8,507.7 1079.6,520.4" fill="none" stroke="#F00000" stroke-width="4" stroke-opacity="0.6"/>
<circle cx="876.1" cy="467.5" r="9" fill="#F00000" fill-opacity="0.55"/>
<circle cx="944" cy="489.7" r="9" fill="#F00000" fill-opacity="0.55"/>
<circle cx="1011.8" cy="507.7" r="9" fill="#F00000" fill-opacity="0.55"/>
<circle cx="1079.6" cy="520.4" r="9" fill="#F00000" fill-opacity="0.55"/>
<polyline points="876.1,499 944,519.2 1011.8,535.7 1079.6,542.2" fill="none" stroke="#0000F0" stroke-width="4" stroke-opacity="0.6"/>
<circle cx="876.1" cy="499" r="9" fill="#0000F0" fill-opacity="0.55"/>
<circle cx="944" cy="519.2" r="9" fill="#0000F0" fill-opacity="0.55"/>
<circle cx="1011.8" cy="535.7" r="9" fill="#0000F0" fill-opacity="0.55"/>
<circle cx="1079.6" cy="542.2" r="9" fill="#0000F0" fill-opacity="0.55"/>
<polyline points="876.1,411.2 944,418 1011.8,424 1079.6,430" fill="none" stroke="#C8C83A" stroke-width="4" stroke-opacity="0.6"/>
<circle cx="876.1" cy="411.2" r="9" fill="#C8C83A" fill-opacity="0.55"/>
<circle cx="944" cy="418" r="9" fill="#C8C83A" fill-opacity="0.55"/>
<circle cx="1011.8" cy="424" r="9" fill="#C8C83A" fill-opacity="0.55"/>
<circle cx="1079.6" cy="430" r="9" fill="#C8C83A" fill-opacity="0.55"/>
</g>
<rect x="176.9" y="134.2" width="15" height="12" fill="#000000"/>
<text x="211.5" y="147.5" class="lg">Reported</text>
<rect x="176.9" y="159.6" width="15" height="12" fill="#8DB6C7"/>
<text x="211.5" y="172.9" class="lg">UGA-CEID</text>
<rect x="176.9" y="185" width="15" height="12" fill="#5068B0"/>
<text x="211.5" y="198.3" class="lg">Columbia-UNC</text>
<rect x="176.9" y="210.4" width="15" height="12" fill="#5DA832"/>
<text x="211.5" y="223.7" class="lg">Columbia</text>
<rect x="176.9" y="235.8" width="15" height="12" fill="#FFFF00"/>
<text x="211.5" y="249.1" class="lg">DDS</text>
<rect x="176.9" y="261.2" width="15" height="12" fill="#DE7F5F"/>
<text x="211.5" y="274.5" class="lg">LSHTM</text>
<rect x="176.9" y="286.6" width="15" height="12" fill="#2B1A6E"/>
<text x="211.5" y="299.9" class="lg">Geneva</text>
<rect x="176.9" y="312" width="15" height="12" fill="#3B47A0"/>
<text x="211.5" y="325.3" class="lg">GT-DeepCOVID</text>
<rect x="176.9" y="337.4" width="15" height="12" fill="#5B2AA0"/>
<text x="211.5" y="350.7" class="lg">IHME</text>
<rect x="412.9" y="134.2" width="15" height="12" fill="#2E6B3A"/>
<text x="447" y="147.5" class="lg">ISU</text>
<rect x="412.9" y="159.6" width="15" height="12" fill="#62C94A"/>
<text x="447" y="172.9" class="lg">IQVIA</text>
<rect x="412.9" y="185" width="15" height="12" fill="#A8D8EA"/>
<text x="447" y="198.3" class="lg">JCB</text>
<rect x="412.9" y="210.4" width="15" height="12" fill="#6B7B2B"/>
<text x="447" y="223.7" class="lg">JHU-IDD</text>
<rect x="412.9" y="235.8" width="15" height="12" fill="#B8DC2C"/>
<text x="447" y="249.1" class="lg">JHU-APL</text>
<rect x="412.9" y="261.2" width="15" height="12" fill="#9B20F0"/>
<text x="447" y="274.5" class="lg">Karlen</text>
<rect x="412.9" y="286.6" width="15" height="12" fill="#8B3A22"/>
<text x="447" y="299.9" class="lg">LANL</text>
<rect x="412.9" y="312" width="15" height="12" fill="#B8E6F8"/>
<text x="447" y="325.3" class="lg">LNQ</text>
<rect x="412.9" y="337.4" width="15" height="12" fill="#A898D8"/>
<text x="447" y="350.7" class="lg">MIT-CovAlliance</text>
<rect x="648.4" y="134.2" width="15" height="12" fill="#4CC46A"/>
<text x="682.5" y="147.5" class="lg">MOBS</text>
<rect x="648.4" y="159.6" width="15" height="12" fill="#6E5A20"/>
<text x="682.5" y="172.9" class="lg">NotreDame-Mobility</text>
<rect x="648.4" y="185" width="15" height="12" fill="#45A8DC"/>
<text x="682.5" y="198.3" class="lg">Oliver Wyman</text>
<rect x="648.4" y="210.4" width="15" height="12" fill="#5B8FE0"/>
<text x="682.5" y="223.7" class="lg">PSI</text>
<rect x="648.4" y="235.8" width="15" height="12" fill="#00F020"/>
<text x="682.5" y="249.1" class="lg">QJHong</text>
<rect x="648.4" y="261.2" width="15" height="12" fill="#F00000"/>
<text x="682.5" y="274.5" class="lg">ESG</text>
<rect x="648.4" y="286.6" width="15" height="12" fill="#70C080"/>
<text x="682.5" y="299.9" class="lg">RPI-UW</text>
<rect x="648.4" y="312" width="15" height="12" fill="#D8DA10"/>
<text x="682.5" y="325.3" class="lg">CovidComplete</text>
<rect x="648.4" y="337.4" width="15" height="12" fill="#0000F0"/>
<text x="682.5" y="350.7" class="lg">STH</text>
<rect x="884" y="134.2" width="15" height="12" fill="#4A2070"/>
<text x="918.5" y="147.5" class="lg">UA</text>
<rect x="884" y="159.6" width="15" height="12" fill="#3F9A4A"/>
<text x="918.5" y="172.9" class="lg">UCLA</text>
<rect x="884" y="185" width="15" height="12" fill="#006400"/>
<text x="918.5" y="198.3" class="lg">UCM</text>
<rect x="884" y="210.4" width="15" height="12" fill="#4CC868"/>
<text x="918.5" y="223.7" class="lg">UCSD-NEU</text>
<rect x="884" y="235.8" width="15" height="12" fill="#A0B860"/>
<text x="918.5" y="249.1" class="lg">UMass-MB</text>
<rect x="884" y="261.2" width="15" height="12" fill="#FFA500"/>
<text x="918.5" y="274.5" class="lg">UM</text>
<rect x="884" y="286.6" width="15" height="12" fill="#DC4040"/>
<text x="918.5" y="299.9" class="lg">ERDC</text>
<rect x="884" y="312" width="15" height="12" fill="#2B3A80"/>
<text x="918.5" y="325.3" class="lg">USC</text>
<rect x="884" y="337.4" width="15" height="12" fill="#BDBE3F"/>
<text x="918.5" y="350.7" class="lg">YYG</text>
<text x="857" y="587.7" class="bd" textLength="366" lengthAdjust="spacing">Bands: 95% Prediction Intervals</text>
<polyline points="1414.3,470.2 1482.1,416.1 1550,409.3 1617.8,378.1 1685.7,326.4 1753.5,349.6 1821.3,355.9 1889.2,362.9 1957,378.1 2024.9,397" class="rep"/>
<circle cx="1414.3" cy="470.2" r="9.5"/>
<circle cx="1482.1" cy="416.1" r="9.5"/>
<circle cx="1550" cy="409.3" r="9.5"/>
<circle cx="1617.8" cy="378.1" r="9.5"/>
<circle cx="1685.7" cy="326.4" r="9.5"/>
<circle cx="1753.5" cy="349.6" r="9.5"/>
<circle cx="1821.3" cy="355.9" r="9.5"/>
<circle cx="1889.2" cy="362.9" r="9.5"/>
<circle cx="1957" cy="378.1" r="9.5"/>
<circle cx="2024.9" cy="397" r="9.5"/>
<polyline points="2092.7,341 2160.6,331.6 2228.4,324 2296.2,321.3" fill="none" stroke="#A9A9A9" stroke-width="3.3"/>
<polyline points="2092.7,357 2160.6,364 2228.4,363.4 2296.2,363.4" fill="none" stroke="#A9A9A9" stroke-width="3.3"/>
<polyline points="2092.7,370 2160.6,343.4 2228.4,346.5 2296.2,357.8" fill="none" stroke="#A9A9A9" stroke-width="3.3"/>
<polyline points="2092.7,385 2160.6,372 2228.4,358 2296.2,344.5" fill="none" stroke="#A9A9A9" stroke-width="3.3"/>
<polyline points="2092.7,375.6 2160.6,374 2228.4,373 2296.2,371.9" fill="none" stroke="#A9A9A9" stroke-width="3.3"/>
<polyline points="2092.7,392 2160.6,372.5 2228.4,380 2296.2,380" fill="none" stroke="#A9A9A9" stroke-width="3.3"/>
<polyline points="2092.7,388 2160.6,386 2228.4,385 2296.2,385" fill="none" stroke="#A9A9A9" stroke-width="3.3"/>
<polyline points="2092.7,396 2160.6,393 2228.4,392 2296.2,390.6" fill="none" stroke="#A9A9A9" stroke-width="3.3"/>
<polyline points="2092.7,395 2160.6,398 2228.4,407.5 2296.2,425" fill="none" stroke="#A9A9A9" stroke-width="3.3"/>
<polyline points="2092.7,400 2160.6,398 2228.4,397 2296.2,396.2" fill="none" stroke="#A9A9A9" stroke-width="3.3"/>
<polyline points="2092.7,392.5 2160.6,395 2228.4,398 2296.2,401.8" fill="none" stroke="#A9A9A9" stroke-width="3.3"/>
<polyline points="2092.7,407 2160.6,426 2228.4,443.6 2296.2,457" fill="none" stroke="#A9A9A9" stroke-width="3.3"/>
<polyline points="2092.7,438 2160.6,442.5 2228.4,446 2296.2,448.5" fill="none" stroke="#A9A9A9" stroke-width="3.3"/>
<polyline points="2092.7,422 2160.6,486.7 2228.4,423.5 2296.2,418" fill="none" stroke="#A9A9A9" stroke-width="3.3"/>
<polyline points="2092.7,467.5 2160.6,489.7 2228.4,507.7 2296.2,520.4" fill="none" stroke="#A9A9A9" stroke-width="3.3"/>
<polyline points="2092.7,457 2160.6,478 2228.4,498 2296.2,515.2" fill="none" stroke="#A9A9A9" stroke-width="3.3"/>
<polyline points="2092.7,499 2160.6,519.2 2228.4,535.7 2296.2,542.2" fill="none" stroke="#A9A9A9" stroke-width="3.3"/>
<polyline points="2092.7,420.6 2160.6,426 2228.4,431 2296.2,436" fill="none" stroke="#A9A9A9" stroke-width="3.3"/>
<polyline points="2092.7,416.8 2160.6,415 2228.4,414 2296.2,413" fill="none" stroke="#A9A9A9" stroke-width="3.3"/>
<polyline points="2092.7,411.2 2160.6,418 2228.4,424 2296.2,430" fill="none" stroke="#A9A9A9" stroke-width="3.3"/>
<polyline points="2092.7,426.2 2160.6,430 2228.4,436 2296.2,441.2" fill="none" stroke="#A9A9A9" stroke-width="3.3"/>
<polyline points="2092.7,420 2160.6,426 2228.4,433 2296.2,441" fill="none" stroke="#A9A9A9" stroke-width="3.3"/>
<polyline points="2092.7,404 2160.6,408 2228.4,414 2296.2,422.5" fill="none" stroke="#A9A9A9" stroke-width="3.3"/>
<polyline points="2092.7,402 2160.6,401 2228.4,400 2296.2,401" fill="none" stroke="#A9A9A9" stroke-width="3.3"/>
<polyline points="2092.7,409 2160.6,412 2228.4,416 2296.2,420" fill="none" stroke="#A9A9A9" stroke-width="3.3"/>
<polyline points="2092.7,404 2160.6,406 2228.4,408 2296.2,410" fill="none" stroke="#A9A9A9" stroke-width="3.3"/>
<polyline points="2092.7,412 2160.6,418 2228.4,424 2296.2,430" fill="none" stroke="#A9A9A9" stroke-width="3.3"/>
<polyline points="2092.7,414 2160.6,422 2228.4,432 2296.2,444" fill="none" stroke="#A9A9A9" stroke-width="3.3"/>
<polyline points="2092.7,406 2160.6,412 2228.4,420 2296.2,428" fill="none" stroke="#A9A9A9" stroke-width="3.3"/>
<polyline points="2092.7,418 2160.6,428 2228.4,440 2296.2,452" fill="none" stroke="#A9A9A9" stroke-width="3.3"/>
<polyline points="2092.7,398 2160.6,404 2228.4,410 2296.2,416" fill="none" stroke="#A9A9A9" stroke-width="3.3"/>
<polyline points="2092.7,413 2160.6,424 2228.4,437 2296.2,452" fill="none" stroke="#A9A9A9" stroke-width="3.3"/>
<polyline points="2092.7,430 2160.6,440 2228.4,452 2296.2,460" fill="none" stroke="#A9A9A9" stroke-width="3.3"/>
<polyline points="2092.7,438.4 2160.6,440 2228.4,441 2296.2,441.2" fill="none" stroke="#A9A9A9" stroke-width="3.3"/>
<polyline points="2092.7,408 2160.6,410 2228.4,412 2296.2,414" fill="none" stroke="#A9A9A9" stroke-width="3.3"/>
<polygon points="2092.7,355.9 2160.6,352 2228.4,339 2296.2,325.9 2296.2,478.7 2228.4,471.2 2160.6,458 2092.7,446.8" fill="#B03030" fill-opacity="0.3"/>
<polygon points="2092.7,389.7 2160.6,388 2228.4,386.5 2296.2,385 2296.2,443 2228.4,436 2160.6,428 2092.7,420.6" fill="#A02020" fill-opacity="0.35"/>
<polyline points="2092.7,404.7 2160.6,411.2 2228.4,411.2 2296.2,414" fill="none" stroke="#960000" stroke-width="3.5"/>
<circle cx="2092.7" cy="404.7" r="9" fill="#960000"/>
<circle cx="2160.6" cy="411.2" r="9" fill="#960000"/>
<circle cx="2228.4" cy="411.2" r="9" fill="#960000"/>
<circle cx="2296.2" cy="414" r="9" fill="#960000"/>
<rect x="1397" y="137.5" width="18" height="15.5" fill="#98000A"/>
<rect x="1397" y="168" width="18" height="15.5" fill="#A9A9A9"/>
<text x="1439" y="154.8" class="lg2">Ensemble</text>
<text x="1439" y="185.3" class="lg2">Individual models</text>
<rect x="1397.5" y="187.5" width="194.5" height="113.8" fill="#fff"/>
<g transform="translate(1404,190.8)">
<rect x="0" y="0" width="184.2" height="106" rx="18" fill="#1167A8"/>
<path id="arca" d="M51.23,86.42 A32.8,32.8 0 1,1 71.79,31.43" fill="none"/>
<text style="font-family:'Liberation Serif',serif;font-weight:bold;font-size:6px;fill:#fff;stroke:#fff;stroke-width:0.35px"><textPath href="#arca" textLength="132" lengthAdjust="spacingAndGlyphs">DEPARTMENT OF HEALTH &amp; HUMAN SERVICES · USA</textPath></text>
<g fill="none" stroke="#fff" stroke-width="4" stroke-linecap="round" stroke-linejoin="round">
<path d="M81,24.2 C80,29 72,37 65.8,42.1 C60,46.5 55,50 53.8,53 C52.8,56 52.8,60 51.8,62.7 C48,64 42,64 39.2,64.7 C38,65.2 37.9,66 37.9,66.7"/>
<path d="M85.7,28.8 C85,33 76,41 69.1,46.1 C64,50 60,54 59.1,58 C58.3,62 58.8,66 60.4,69.3 C61.5,72 63.5,74.5 64.4,77.3 C64.5,80 62,82 60.4,84 C58.5,86.5 56.5,88 56.5,89.2 C57,90.5 58,91 59.1,91.2"/>
<path d="M83.7,40.8 C82,44 75,49.5 69.7,54 C67,57 65.5,60 64.4,64.7 C64.5,67 65.5,69 67.1,69.3 C70,69.5 75,68.7 79,68.7 C83,68.5 87,68.8 89.7,68.7"/>
<path d="M33.2,69.3 C37,70 40,71 43.2,72 C46.5,73 50,74.3 52.5,75.3 C55,76.5 57,77.2 59.1,78 C61,79 62.5,79.8 63.1,80.6 C64.2,82 65,83.7 65.8,84.6 C67,85.5 68.5,86 69.7,86"/>
</g>
<g stroke="#C4DEF8" stroke-width="1.25" fill="none">
<line x1="102.6" y1="73.2" x2="106.4" y2="34.3"/>
<line x1="105.1" y1="73.2" x2="112.8" y2="34.3"/>
<line x1="107.5" y1="73.2" x2="118.7" y2="34.3"/>
<line x1="110" y1="73.2" x2="124.4" y2="34.3"/>
<line x1="112.8" y1="73.2" x2="129.7" y2="34.3"/>
<line x1="116.3" y1="73.2" x2="135" y2="34.3"/>
<line x1="120.4" y1="73.2" x2="144.8" y2="34.3"/>
<line x1="125.3" y1="73.2" x2="153.7" y2="34.3"/>
<line x1="130.7" y1="73.2" x2="165" y2="34.3"/>
<line x1="138" y1="73.2" x2="167" y2="49"/>
<line x1="146.6" y1="73.2" x2="167" y2="60.9"/>
<line x1="156.7" y1="73.2" x2="167" y2="70.3"/>
</g>
<rect x="101.4" y="33.2" width="66.7" height="40.7" fill="none" stroke="#fff" stroke-width="2.2"/>
<text x="104.8" y="61.2" textLength="60" lengthAdjust="spacingAndGlyphs" style="font-family:'Liberation Serif',serif;font-weight:bold;font-size:33px;fill:#fff;stroke:#fff;stroke-width:0.5px">CDC</text>
</g>
<text x="2001" y="572.5" class="bd" textLength="432" lengthAdjust="spacing">Inner Bands: 50% Prediction Intervals</text>
<text x="2001" y="603" class="bd" textLength="439" lengthAdjust="spacing">Outer Bands: 95% Prediction Intervals</text>
<polyline points="197.7,1037.3 265.5,1032.2 333.4,1026.5 401.2,1019.8 469.1,1011 536.9,1003.8 604.7,996.6 672.6,988.9 740.4,981.9 808.3,976" class="rep"/>
<circle cx="197.7" cy="1037.3" r="9.5"/>
<circle cx="265.5" cy="1032.2" r="9.5"/>
<circle cx="333.4" cy="1026.5" r="9.5"/>
<circle cx="401.2" cy="1019.8" r="9.5"/>
<circle cx="469.1" cy="1011" r="9.5"/>
<circle cx="536.9" cy="1003.8" r="9.5"/>
<circle cx="604.7" cy="996.6" r="9.5"/>
<circle cx="672.6" cy="988.9" r="9.5"/>
<circle cx="740.4" cy="981.9" r="9.5"/>
<circle cx="808.3" cy="976" r="9.5"/>
<polygon points="876.1,958 944,950 1011.8,940 1079.6,928 1079.6,962 1011.8,966 944,970 876.1,975" fill="#90D0A0" fill-opacity="0.35"/>
<polygon points="876.1,962 944,955 1011.8,947 1079.6,938 1079.6,955 1011.8,960 944,966 876.1,972" fill="#608060" fill-opacity="0.3"/>
<polygon points="876.1,972 944,968 1011.8,965 1079.6,962 1079.6,976 1011.8,978 944,980 876.1,982" fill="#F8E890" fill-opacity="0.5"/>
<polygon points="876.1,967 944,961 1011.8,953 1079.6,945 1079.6,962 1011.8,966 944,970 876.1,974" fill="#F0A040" fill-opacity="0.35"/>
<polyline points="876.1,975 944,971 1011.8,967 1079.6,965" fill="none" stroke="#7050C0" stroke-width="4" stroke-opacity="0.85"/>
<circle cx="876.1" cy="975" r="9" fill="#7050C0" fill-opacity="0.85"/>
<circle cx="944" cy="971" r="9" fill="#7050C0" fill-opacity="0.85"/>
<circle cx="1011.8" cy="967" r="9" fill="#7050C0" fill-opacity="0.85"/>
<circle cx="1079.6" cy="965" r="9" fill="#7050C0" fill-opacity="0.85"/>
<polyline points="876.1,975 944,972 1011.8,969 1079.6,967" fill="none" stroke="#5548D8" stroke-width="4" stroke-opacity="0.85"/>
<circle cx="876.1" cy="975" r="9" fill="#5548D8" fill-opacity="0.85"/>
<circle cx="944" cy="972" r="9" fill="#5548D8" fill-opacity="0.85"/>
<circle cx="1011.8" cy="969" r="9" fill="#5548D8" fill-opacity="0.85"/>
<circle cx="1079.6" cy="967" r="9" fill="#5548D8" fill-opacity="0.85"/>
<polyline points="876.1,970 944,964 1011.8,957 1079.6,950" fill="none" stroke="#E8A020" stroke-width="4" stroke-opacity="0.85"/>
<circle cx="876.1" cy="970" r="9" fill="#E8A020" fill-opacity="0.85"/>
<circle cx="944" cy="964" r="9" fill="#E8A020" fill-opacity="0.85"/>
<circle cx="1011.8" cy="957" r="9" fill="#E8A020" fill-opacity="0.85"/>
<circle cx="1079.6" cy="950" r="9" fill="#E8A020" fill-opacity="0.85"/>
<polyline points="876.1,969 944,962 1011.8,954 1079.6,946" fill="none" stroke="#F08020" stroke-width="4" stroke-opacity="0.85"/>
<circle cx="876.1" cy="969" r="9" fill="#F08020" fill-opacity="0.85"/>
<circle cx="944" cy="962" r="9" fill="#F08020" fill-opacity="0.85"/>
<circle cx="1011.8" cy="954" r="9" fill="#F08020" fill-opacity="0.85"/>
<circle cx="1079.6" cy="946" r="9" fill="#F08020" fill-opacity="0.85"/>
<polyline points="876.1,969 944,962 1011.8,955 1079.6,948" fill="none" stroke="#8B3A22" stroke-width="4" stroke-opacity="0.85"/>
<circle cx="876.1" cy="969" r="9" fill="#8B3A22" fill-opacity="0.85"/>
<circle cx="944" cy="962" r="9" fill="#8B3A22" fill-opacity="0.85"/>
<circle cx="1011.8" cy="955" r="9" fill="#8B3A22" fill-opacity="0.85"/>
<circle cx="1079.6" cy="948" r="9" fill="#8B3A22" fill-opacity="0.85"/>
<polyline points="876.1,968 944,962 1011.8,956 1079.6,952" fill="none" stroke="#80A060" stroke-width="4" stroke-opacity="0.85"/>
<circle cx="876.1" cy="968" r="9" fill="#80A060" fill-opacity="0.85"/>
<circle cx="944" cy="962" r="9" fill="#80A060" fill-opacity="0.85"/>
<circle cx="1011.8" cy="956" r="9" fill="#80A060" fill-opacity="0.85"/>
<circle cx="1079.6" cy="952" r="9" fill="#80A060" fill-opacity="0.85"/>
<polyline points="876.1,971 944,966 1011.8,962 1079.6,958" fill="none" stroke="#D8DA10" stroke-width="4" stroke-opacity="0.85"/>
<circle cx="876.1" cy="971" r="9" fill="#D8DA10" fill-opacity="0.85"/>
<circle cx="944" cy="966" r="9" fill="#D8DA10" fill-opacity="0.85"/>
<circle cx="1011.8" cy="962" r="9" fill="#D8DA10" fill-opacity="0.85"/>
<circle cx="1079.6" cy="958" r="9" fill="#D8DA10" fill-opacity="0.85"/>
<polyline points="876.1,972 944,968 1011.8,964 1079.6,962" fill="none" stroke="#E0C020" stroke-width="4" stroke-opacity="0.85"/>
<circle cx="876.1" cy="972" r="9" fill="#E0C020" fill-opacity="0.85"/>
<circle cx="944" cy="968" r="9" fill="#E0C020" fill-opacity="0.85"/>
<circle cx="1011.8" cy="964" r="9" fill="#E0C020" fill-opacity="0.85"/>
<circle cx="1079.6" cy="962" r="9" fill="#E0C020" fill-opacity="0.85"/>
<polyline points="876.1,970 944,965.4 1011.8,961.8 1079.6,958.8" fill="none" stroke="#C0C040" stroke-width="4" stroke-opacity="0.85"/>
<circle cx="876.1" cy="970" r="9" fill="#C0C040" fill-opacity="0.85"/>
<circle cx="944" cy="965.4" r="9" fill="#C0C040" fill-opacity="0.85"/>
<circle cx="1011.8" cy="961.8" r="9" fill="#C0C040" fill-opacity="0.85"/>
<circle cx="1079.6" cy="958.8" r="9" fill="#C0C040" fill-opacity="0.85"/>
<rect x="176.9" y="718.5" width="15" height="12" fill="#000000"/>
<text x="211.5" y="731.8" class="lg">Reported</text>
<rect x="176.9" y="743.8" width="15" height="12" fill="#8DB6C7"/>
<text x="211.5" y="757.1" class="lg">UGA-CEID</text>
<rect x="176.9" y="769.1" width="15" height="12" fill="#5068B0"/>
<text x="211.5" y="782.4" class="lg">Columbia-UNC</text>
<rect x="176.9" y="794.4" width="15" height="12" fill="#B070E0"/>
<text x="211.5" y="807.7" class="lg">MIT-ORC</text>
<rect x="176.9" y="819.7" width="15" height="12" fill="#5DA832"/>
<text x="211.5" y="833" class="lg">Columbia</text>
<rect x="176.9" y="845" width="15" height="12" fill="#FFFF00"/>
<text x="211.5" y="858.3" class="lg">DDS</text>
<rect x="176.9" y="870.3" width="15" height="12" fill="#DE7F5F"/>
<text x="211.5" y="883.6" class="lg">LSHTM</text>
<rect x="176.9" y="895.6" width="15" height="12" fill="#2B1A6E"/>
<text x="211.5" y="908.9" class="lg">Geneva</text>
<rect x="176.9" y="920.9" width="15" height="12" fill="#3B47A0"/>
<text x="211.5" y="934.2" class="lg">GT-DeepCOVID</text>
<rect x="176.9" y="946.2" width="15" height="12" fill="#90D830"/>
<text x="211.5" y="959.5" class="lg">IBF</text>
<rect x="412.9" y="718.5" width="15" height="12" fill="#5B2AA0"/>
<text x="447" y="731.8" class="lg">IHME</text>
<rect x="412.9" y="743.8" width="15" height="12" fill="#2E6B3A"/>
<text x="447" y="757.1" class="lg">ISU</text>
<rect x="412.9" y="769.1" width="15" height="12" fill="#A8D8EA"/>
<text x="447" y="782.4" class="lg">JCB</text>
<rect x="412.9" y="794.4" width="15" height="12" fill="#6B7B2B"/>
<text x="447" y="807.7" class="lg">JHU-IDD</text>
<rect x="412.9" y="819.7" width="15" height="12" fill="#B8DC2C"/>
<text x="447" y="833" class="lg">JHU-APL</text>
<rect x="412.9" y="845" width="15" height="12" fill="#9B20F0"/>
<text x="447" y="858.3" class="lg">Karlen</text>
<rect x="412.9" y="870.3" width="15" height="12" fill="#8B3A22"/>
<text x="447" y="883.6" class="lg">LANL</text>
<rect x="412.9" y="895.6" width="15" height="12" fill="#B8E6F8"/>
<text x="447" y="908.9" class="lg">LNQ</text>
<rect x="412.9" y="920.9" width="15" height="12" fill="#30B070"/>
<text x="447" y="934.2" class="lg">MIT-LCP</text>
<rect x="412.9" y="946.2" width="15" height="12" fill="#4CC46A"/>
<text x="447" y="959.5" class="lg">MOBS</text>
<rect x="648.4" y="718.5" width="15" height="12" fill="#6E5A20"/>
<text x="682.5" y="731.8" class="lg">NotreDame-Mobility</text>
<rect x="648.4" y="743.8" width="15" height="12" fill="#45A8DC"/>
<text x="682.5" y="757.1" class="lg">Oliver Wyman</text>
<rect x="648.4" y="769.1" width="15" height="12" fill="#5B8FE0"/>
<text x="682.5" y="782.4" class="lg">PSI</text>
<rect x="648.4" y="794.4" width="15" height="12" fill="#00F020"/>
<text x="682.5" y="807.7" class="lg">QJHong</text>
<rect x="648.4" y="819.7" width="15" height="12" fill="#F00000"/>
<text x="682.5" y="833" class="lg">ESG</text>
<rect x="648.4" y="845" width="15" height="12" fill="#70C080"/>
<text x="682.5" y="858.3" class="lg">RPI-UW</text>
<rect x="648.4" y="870.3" width="15" height="12" fill="#D8DA10"/>
<text x="682.5" y="883.6" class="lg">CovidComplete</text>
<rect x="648.4" y="895.6" width="15" height="12" fill="#0000F0"/>
<text x="682.5" y="908.9" class="lg">STH</text>
<rect x="648.4" y="920.9" width="15" height="12" fill="#4A2070"/>
<text x="682.5" y="934.2" class="lg">UA</text>
<rect x="648.4" y="946.2" width="15" height="12" fill="#3F9A4A"/>
<text x="682.5" y="959.5" class="lg">UCLA</text>
<rect x="884" y="718.5" width="15" height="12" fill="#006400"/>
<text x="918.5" y="731.8" class="lg">UCM</text>
<rect x="884" y="743.8" width="15" height="12" fill="#4CC868"/>
<text x="918.5" y="757.1" class="lg">UCSD-NEU</text>
<rect x="884" y="769.1" width="15" height="12" fill="#A0B860"/>
<text x="918.5" y="782.4" class="lg">UMass-MB</text>
<rect x="884" y="794.4" width="15" height="12" fill="#FFA500"/>
<text x="918.5" y="807.7" class="lg">UM</text>
<rect x="884" y="819.7" width="15" height="12" fill="#DC4040"/>
<text x="918.5" y="833" class="lg">ERDC</text>
<rect x="884" y="845" width="15" height="12" fill="#2B3A80"/>
<text x="918.5" y="858.3" class="lg">USC</text>
<rect x="884" y="870.3" width="15" height="12" fill="#F8E020"/>
<text x="918.5" y="883.6" class="lg">Walmart</text>
<rect x="884" y="895.6" width="15" height="12" fill="#BDBE3F"/>
<text x="918.5" y="908.9" class="lg">YYG</text>
<text x="857" y="1172" class="bd" textLength="366" lengthAdjust="spacing">Bands: 95% Prediction Intervals</text>
<polyline points="1414.3,1037.3 1482.1,1032.2 1550,1026.5 1617.8,1019.8 1685.7,1011 1753.5,1003.8 1821.3,996.6 1889.2,988.9 1957,981.9 2024.9,976" class="rep"/>
<circle cx="1414.3" cy="1037.3" r="9.5"/>
<circle cx="1482.1" cy="1032.2" r="9.5"/>
<circle cx="1550" cy="1026.5" r="9.5"/>
<circle cx="1617.8" cy="1019.8" r="9.5"/>
<circle cx="1685.7" cy="1011" r="9.5"/>
<circle cx="1753.5" cy="1003.8" r="9.5"/>
<circle cx="1821.3" cy="996.6" r="9.5"/>
<circle cx="1889.2" cy="988.9" r="9.5"/>
<circle cx="1957" cy="981.9" r="9.5"/>
<circle cx="2024.9" cy="976" r="9.5"/>
<polygon points="2092.7,964.5 2160.6,959 2228.4,952 2296.2,945.3 2296.2,972.7 2228.4,973.5 2160.6,974.5 2092.7,975" fill="#ADADAD"/>
<polygon points="2092.7,966 2160.6,960 2228.4,953 2296.2,946 2296.2,957 2228.4,962 2160.6,968 2092.7,972" fill="#A02020" fill-opacity="0.22"/>
<polyline points="2092.7,970.5 2160.6,965.2 2228.4,959.8 2296.2,953.9" fill="none" stroke="#9A0000" stroke-width="4"/>
<circle cx="2092.7" cy="970.5" r="8.8" fill="#9A0000"/>
<circle cx="2160.6" cy="965.2" r="8.8" fill="#9A0000"/>
<circle cx="2228.4" cy="959.8" r="8.8" fill="#9A0000"/>
<circle cx="2296.2" cy="953.9" r="8.8" fill="#9A0000"/>
<rect x="1397" y="721.8" width="18" height="15.5" fill="#98000A"/>
<rect x="1397" y="752.3" width="18" height="15.5" fill="#A9A9A9"/>
<text x="1439" y="739.1" class="lg2">Ensemble</text>
<text x="1439" y="769.6" class="lg2">Individual models</text>
<rect x="1397.5" y="771.8" width="194.5" height="113.8" fill="#fff"/>
<g transform="translate(1404,775.1)">
<rect x="0" y="0" width="184.2" height="106" rx="18" fill="#1167A8"/>
<path id="arcb" d="M51.23,86.42 A32.8,32.8 0 1,1 71.79,31.43" fill="none"/>
<text style="font-family:'Liberation Serif',serif;font-weight:bold;font-size:6px;fill:#fff;stroke:#fff;stroke-width:0.35px"><textPath href="#arcb" textLength="132" lengthAdjust="spacingAndGlyphs">DEPARTMENT OF HEALTH &amp; HUMAN SERVICES · USA</textPath></text>
<g fill="none" stroke="#fff" stroke-width="4" stroke-linecap="round" stroke-linejoin="round">
<path d="M81,24.2 C80,29 72,37 65.8,42.1 C60,46.5 55,50 53.8,53 C52.8,56 52.8,60 51.8,62.7 C48,64 42,64 39.2,64.7 C38,65.2 37.9,66 37.9,66.7"/>
<path d="M85.7,28.8 C85,33 76,41 69.1,46.1 C64,50 60,54 59.1,58 C58.3,62 58.8,66 60.4,69.3 C61.5,72 63.5,74.5 64.4,77.3 C64.5,80 62,82 60.4,84 C58.5,86.5 56.5,88 56.5,89.2 C57,90.5 58,91 59.1,91.2"/>
<path d="M83.7,40.8 C82,44 75,49.5 69.7,54 C67,57 65.5,60 64.4,64.7 C64.5,67 65.5,69 67.1,69.3 C70,69.5 75,68.7 79,68.7 C83,68.5 87,68.8 89.7,68.7"/>
<path d="M33.2,69.3 C37,70 40,71 43.2,72 C46.5,73 50,74.3 52.5,75.3 C55,76.5 57,77.2 59.1,78 C61,79 62.5,79.8 63.1,80.6 C64.2,82 65,83.7 65.8,84.6 C67,85.5 68.5,86 69.7,86"/>
</g>
<g stroke="#C4DEF8" stroke-width="1.25" fill="none">
<line x1="102.6" y1="73.2" x2="106.4" y2="34.3"/>
<line x1="105.1" y1="73.2" x2="112.8" y2="34.3"/>
<line x1="107.5" y1="73.2" x2="118.7" y2="34.3"/>
<line x1="110" y1="73.2" x2="124.4" y2="34.3"/>
<line x1="112.8" y1="73.2" x2="129.7" y2="34.3"/>
<line x1="116.3" y1="73.2" x2="135" y2="34.3"/>
<line x1="120.4" y1="73.2" x2="144.8" y2="34.3"/>
<line x1="125.3" y1="73.2" x2="153.7" y2="34.3"/>
<line x1="130.7" y1="73.2" x2="165" y2="34.3"/>
<line x1="138" y1="73.2" x2="167" y2="49"/>
<line x1="146.6" y1="73.2" x2="167" y2="60.9"/>
<line x1="156.7" y1="73.2" x2="167" y2="70.3"/>
</g>
<rect x="101.4" y="33.2" width="66.7" height="40.7" fill="none" stroke="#fff" stroke-width="2.2"/>
<text x="104.8" y="61.2" textLength="60" lengthAdjust="spacingAndGlyphs" style="font-family:'Liberation Serif',serif;font-weight:bold;font-size:33px;fill:#fff;stroke:#fff;stroke-width:0.5px">CDC</text>
</g>
<text x="2001" y="1156.8" class="bd" textLength="432" lengthAdjust="spacing">Inner Bands: 50% Prediction Intervals</text>
<text x="2001" y="1187.3" class="bd" textLength="439" lengthAdjust="spacing">Outer Bands: 95% Prediction Intervals</text>
</svg>
</body></html>
